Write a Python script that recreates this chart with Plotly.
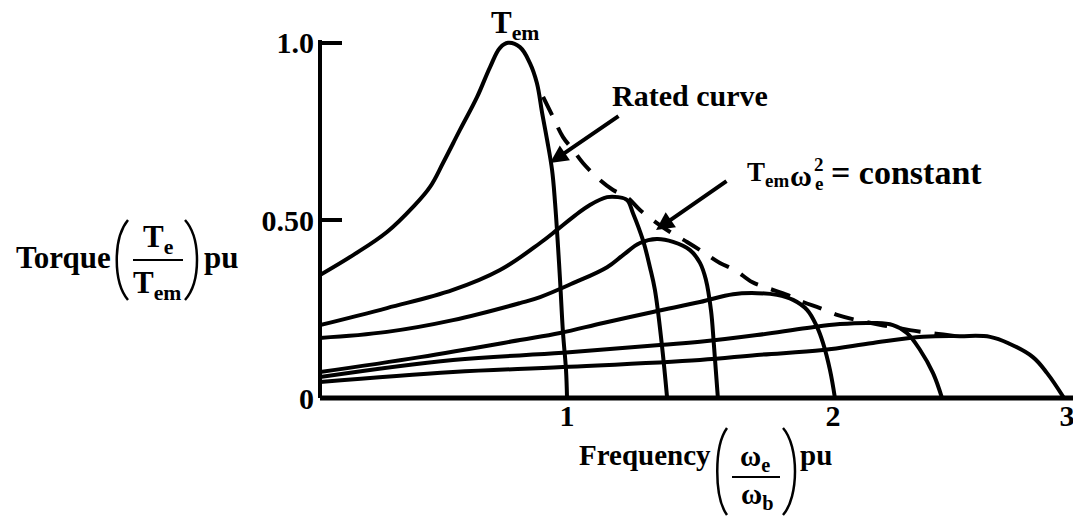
import plotly.graph_objects as go

# ---------------- data (x: frequency pu, y: torque pu) ----------------
rated_x = [0, 0.133, 0.269, 0.373, 0.442, 0.494, 0.562, 0.631, 0.683, 0.723, 0.755, 0.803,
           0.843, 0.871, 0.892, 0.912, 0.932, 0.944, 0.956, 0.964, 0.976, 0.988, 0.992]
rated_y = [0.346, 0.402, 0.467, 0.537, 0.594, 0.661, 0.754, 0.847, 0.931, 0.985, 0.999, 0.987,
           0.942, 0.886, 0.802, 0.726, 0.641, 0.549, 0.425, 0.332, 0.183, 0.079, 0.0]

c2_x = [0, 0.269, 0.534, 0.723, 0.884, 0.952, 1.016, 1.084, 1.153, 1.197, 1.233, 1.257,
        1.297, 1.325, 1.345, 1.373, 1.394]
c2_y = [0.205, 0.253, 0.304, 0.360, 0.436, 0.473, 0.509, 0.543, 0.565, 0.565, 0.557, 0.520,
        0.444, 0.368, 0.304, 0.149, 0.0]

c3_x = [0, 0.269, 0.534, 0.803, 0.884, 1.016, 1.153, 1.217, 1.285, 1.353, 1.418, 1.486,
        1.526, 1.550, 1.570, 1.582, 1.598]
c3_y = [0.169, 0.186, 0.219, 0.267, 0.284, 0.323, 0.368, 0.402, 0.436, 0.447, 0.439, 0.416,
        0.380, 0.332, 0.248, 0.149, 0.0]

c4_x = [0, 0.402, 0.803, 0.964, 1.137, 1.337, 1.526, 1.659, 1.755, 1.835, 1.900, 1.956,
        1.996, 2.020, 2.048, 2.068]
c4_y = [0.073, 0.115, 0.163, 0.183, 0.211, 0.242, 0.270, 0.292, 0.295, 0.290, 0.276, 0.248,
        0.200, 0.155, 0.079, 0.0]

c5_x = [0, 0.534, 0.976, 1.365, 1.526, 1.755, 1.956, 2.088, 2.221, 2.301, 2.357, 2.410,
        2.462, 2.498]
c5_y = [0.059, 0.107, 0.127, 0.149, 0.158, 0.177, 0.197, 0.208, 0.211, 0.205, 0.183, 0.135,
        0.070, 0.0]

c6_x = [0, 0.534, 0.976, 1.526, 1.755, 2.020, 2.221, 2.422, 2.570, 2.691, 2.771, 2.863,
        2.920, 2.988]
c6_y = [0.045, 0.073, 0.087, 0.107, 0.121, 0.135, 0.155, 0.172, 0.174, 0.172, 0.152, 0.115,
        0.070, 0.0]

# T_em * w_e^2 = constant envelope (dashed)
env_x = [0.896, 0.936, 0.976, 1.016, 1.056, 1.124, 1.177, 1.233, 1.285, 1.353, 1.406, 1.474,
         1.538, 1.606, 1.667, 1.735, 1.799, 1.876, 1.940, 2.008, 2.080, 2.157, 2.369, 2.450,
         2.518, 2.598]
env_y = [0.847, 0.790, 0.734, 0.698, 0.661, 0.613, 0.585, 0.565, 0.529, 0.492, 0.467, 0.439,
         0.411, 0.380, 0.360, 0.326, 0.309, 0.290, 0.270, 0.253, 0.233, 0.219, 0.191, 0.183,
         0.177, 0.169]

x_tick_pos = [0.992, 2.060, 3.0]
x_tick_text = ["1", "2", "3"]
y_tick_pos = [0, 0.5, 1.0]
y_tick_text = ["0", "0.50", "1.0"]

# ---------------- layout geometry (page pixels; the page body adds an 8 px margin) ----------------
PAGE_W, PAGE_H = 1081, 518
BODY = 8
W, H = PAGE_W - BODY, PAGE_H - BODY
L, R, T, B = 320, 1078, 14, 398          # plot area in page pixels
X_PER_UNIT = 249.0
Y_PER_UNIT = 355.5
FONT = "Liberation Serif, Times New Roman, serif"


def px(x):
    return (x - L) / (R - L)


def py(y):
    return (B - y) / (B - T)


fig = go.Figure()

for xs, ys in [(rated_x, rated_y), (c2_x, c2_y), (c3_x, c3_y), (c4_x, c4_y),
               (c5_x, c5_y), (c6_x, c6_y)]:
    fig.add_trace(go.Scatter(x=xs, y=ys, mode="lines",
                             line=dict(color="black", width=4, shape="spline", smoothing=1.1),
                             showlegend=False, hoverinfo="skip"))

fig.add_trace(go.Scatter(x=env_x, y=env_y, mode="lines",
                         line=dict(color="black", width=4, dash="20px,14px", shape="spline",
                                   smoothing=1.0),
                         showlegend=False, hoverinfo="skip"))


def label(text, x, y, size=30, xanchor="center", yanchor="middle"):
    return dict(text=text, x=px(x), y=py(y), xref="paper", yref="paper", showarrow=False,
                xanchor=xanchor, yanchor=yanchor,
                font=dict(family=FONT, size=size, color="black", weight="bold"))


def arrow(tip, tail):
    return dict(text="", x=px(tip[0]), y=py(tip[1]), xref="paper", yref="paper",
                showarrow=True, ax=tail[0] - tip[0], ay=tail[1] - tip[1],
                arrowhead=2, arrowsize=0.9, arrowwidth=4, arrowcolor="black", standoff=0)


annotations = [
    label("T<sub>em</sub>", 515, 25, 31),
    label("Rated curve", 690, 96, 30),
    arrow((550, 163), (620, 115)),
    # T_em w_e^2 = constant
    label("T<sub>em</sub>", 745, 174, 27, xanchor="left"),
    label("ω", 801, 175, 30),
    label("2", 819, 164, 19),
    label("e", 819, 183, 19),
    label("= constant", 984, 172, 34, xanchor="right"),
    arrow((656, 230), (728, 180)),
    # y-axis title
    label("Torque", 113, 257, 31, xanchor="right"),
    label("T<sub>e</sub>", 158, 239, 31),
    label("T<sub>em</sub>", 157, 285, 31),
    label("pu", 202, 257, 31, xanchor="left"),
    # x-axis title
    label("Frequency", 713, 455, 29, xanchor="right"),
    label("ω<sub>e</sub>", 755, 458, 29),
    label("ω<sub>b</sub>", 757, 496, 29),
    label("pu", 798, 455, 29, xanchor="left"),
]


def paren_path(x_end, x_ctrl, y_top, y_bot):
    return ("M {a},{b} C {c},{d} {c},{e} {a},{f}".format(
        a=px(x_end), b=py(y_top), c=px(x_ctrl), d=py(y_top + 18), e=py(y_bot - 18),
        f=py(y_bot)))


line_style = dict(color="black", width=2.5)
shapes = [
    # axes
    dict(type="line", xref="paper", yref="paper", x0=0, x1=1, y0=0, y1=0,
         line=dict(color="black", width=5)),
    dict(type="line", xref="paper", yref="paper", x0=0, x1=0, y0=0, y1=py(40),
         line=dict(color="black", width=4)),
    # y title parentheses and fraction bar
    dict(type="path", xref="paper", yref="paper", path=paren_path(128, 113, 220, 300), line=line_style),
    dict(type="path", xref="paper", yref="paper", path=paren_path(185, 201, 220, 300), line=line_style),
    dict(type="line", xref="paper", yref="paper", x0=px(133), x1=px(183), y0=py(260), y1=py(260),
         line=dict(color="black", width=2)),
    # x title parentheses and fraction bar
    dict(type="path", xref="paper", yref="paper", path=paren_path(727, 714, 428, 515), line=line_style),
    dict(type="path", xref="paper", yref="paper", path=paren_path(783, 799, 428, 515), line=line_style),
    dict(type="line", xref="paper", yref="paper", x0=px(732), x1=px(780), y0=py(477), y1=py(477),
         line=dict(color="black", width=2)),
]

fig.update_layout(
    width=W, height=H,
    margin=dict(l=L - BODY, r=(PAGE_W - R), t=T - BODY, b=(PAGE_H - B), pad=0),
    paper_bgcolor="white", plot_bgcolor="white",
    xaxis=dict(range=[0, (R - L) / X_PER_UNIT], showgrid=False, zeroline=False, showline=False,
               tickvals=x_tick_pos, ticktext=x_tick_text, ticks="", ticklabelstandoff=-3,
               tickfont=dict(family=FONT, size=30, color="black", weight="bold")),
    yaxis=dict(range=[0, (B - T) / Y_PER_UNIT], showgrid=False, zeroline=False, showline=False,
               tickvals=y_tick_pos, ticktext=y_tick_text, ticks="inside", ticklen=22,
               tickwidth=4, tickcolor="black", ticklabelstandoff=5,
               tickfont=dict(family=FONT, size=30, color="black", weight="bold")),
    annotations=annotations,
    shapes=shapes,
)

fig.write_html("out.html")
